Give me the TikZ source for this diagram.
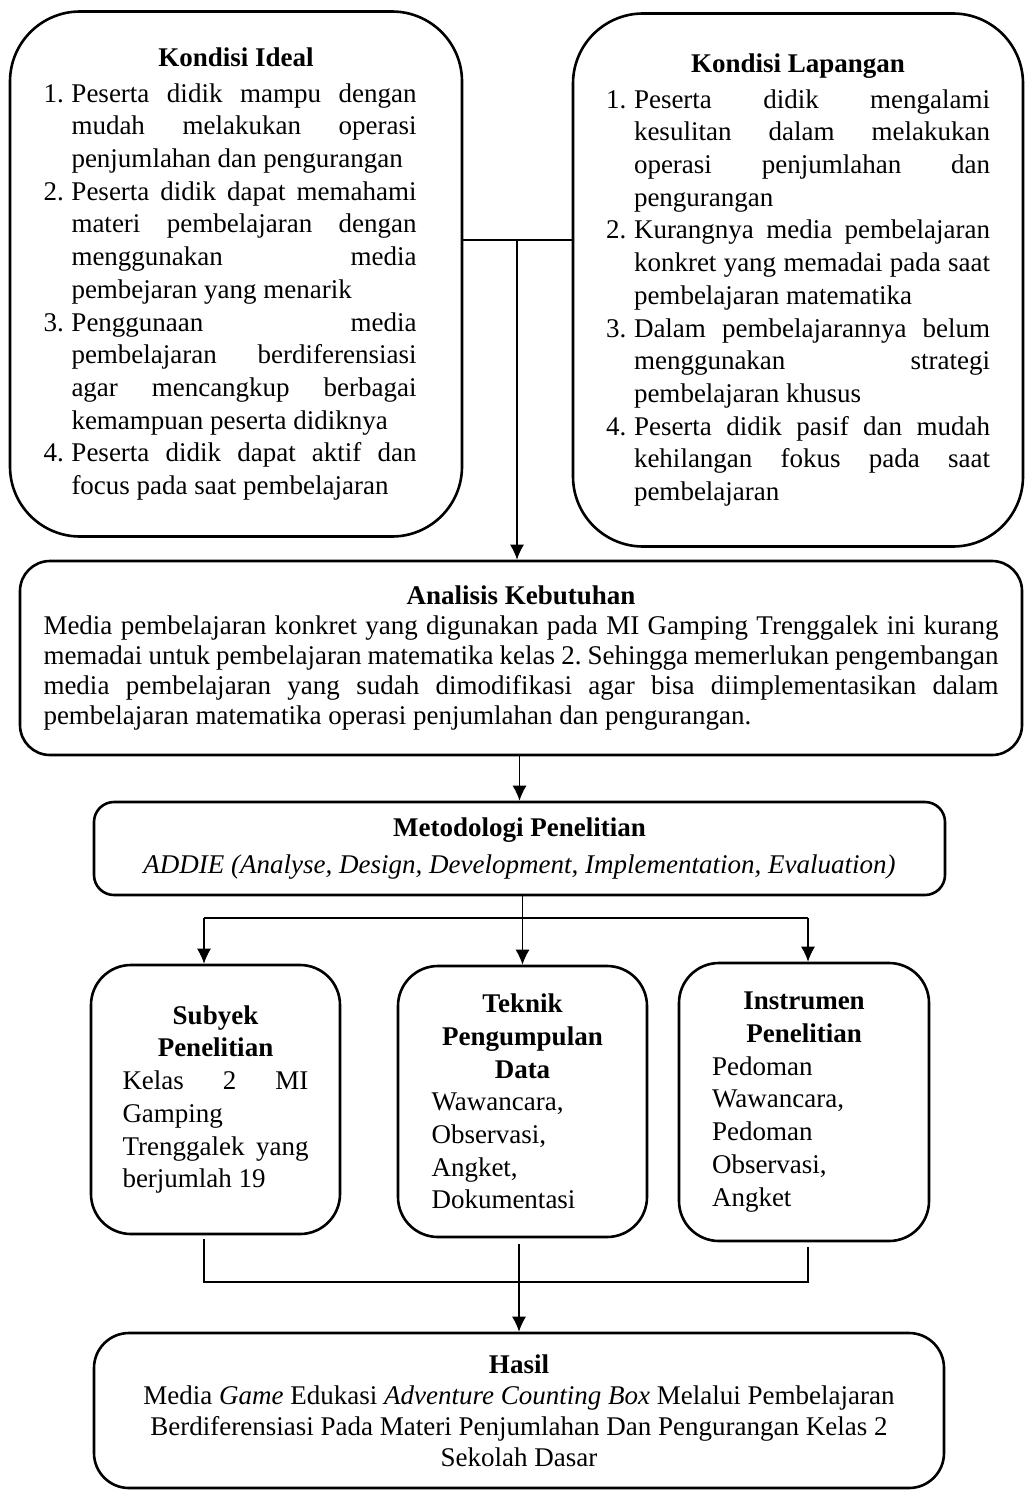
\documentclass[tikz,border=0pt]{standalone}
\usepackage{fontspec}
\setmainfont{Liberation Serif}
\usetikzlibrary{arrows.meta,calc}
\frenchspacing
\tolerance=10000
\hyphenpenalty=10000
\newcommand\kitem[2]{\par\hangindent=28pt\hangafter=1\noindent\makebox[28pt][l]{#1}#2\par}

\begin{document}
\begin{tikzpicture}[x=1pt,y=-1pt,
    panel/.style={draw=black, line width=2.6pt, rounded corners=#1, inner sep=0pt,
                  font=\fontsize{27pt}{32.7pt}\selectfont},
    panel/.default=40pt,
    link/.style={line width=1.3pt},
    >={Latex[length=15pt,width=14pt]}]
    \useasboundingbox (0,0) rectangle (1026,1490);
    % Kondisi Ideal
    \node[panel=70pt, minimum width=452pt, minimum height=525pt,
          text width=385pt, align=justify] (ideal) at (236,274) {\rightskip=12pt
        {\centering\bfseries Kondisi Ideal\par}\vspace{3pt}
        \kitem{1.}{Peserta didik mampu dengan\linebreak mudah melakukan operasi\linebreak penjumlahan dan pengurangan}
        \kitem{2.}{Peserta didik dapat memahami\linebreak materi pembelajaran dengan\linebreak menggunakan media\linebreak pembejaran yang menarik}
        \kitem{3.}{Penggunaan media\linebreak pembelajaran berdiferensiasi\linebreak agar mencangkup berbagai\linebreak kemampuan peserta didiknya}
        \kitem{4.}{Peserta didik dapat aktif dan\linebreak focus pada saat pembelajaran}};
    % Kondisi Lapangan
    \node[panel=70pt, minimum width=450pt, minimum height=533pt,
          text width=384pt, align=justify] (lapangan) at (798,280) {
        {\centering\bfseries Kondisi Lapangan\par}\vspace{3pt}
        \kitem{1.}{Peserta didik mengalami\linebreak kesulitan dalam melakukan\linebreak operasi penjumlahan dan\linebreak pengurangan}
        \kitem{2.}{Kurangnya media pembelajaran\linebreak konkret yang memadai pada saat\linebreak pembelajaran matematika}
        \kitem{3.}{Dalam pembelajarannya belum\linebreak menggunakan strategi\linebreak pembelajaran khusus}
        \kitem{4.}{Peserta didik pasif dan mudah\linebreak kehilangan fokus pada saat\linebreak pembelajaran}};
    % Analisis Kebutuhan
    \node[panel=30pt, minimum width=1002pt, minimum height=194pt,
          text width=955pt, align=justify,
          font=\fontsize{27pt}{30pt}\selectfont] (analisis) at (521,658) {
        {\centering\bfseries Analisis Kebutuhan\par}
        Media pembelajaran konkret yang digunakan pada MI Gamping Trenggalek ini kurang\linebreak
        memadai untuk pembelajaran matematika kelas 2. Sehingga memerlukan pengembangan\linebreak
        media pembelajaran yang sudah dimodifikasi agar bisa diimplementasikan dalam\linebreak
        pembelajaran matematika operasi penjumlahan dan pengurangan.};
    % Metodologi Penelitian
    \node[panel=20pt, minimum width=851pt, minimum height=93pt, align=center,
          font=\fontsize{27pt}{37pt}\selectfont] (metodologi) at (519.5,848.5) {
        \textbf{Metodologi Penelitian}\\
        \textit{ADDIE (Analyse, Design, Development, Implementation, Evaluation)}};
    % Subyek, Teknik, Instrumen
    \node[panel, minimum width=249pt, minimum height=269pt,
          text width=186pt, align=justify] (subyek) at (215.5,1099.5) {
        {\centering\bfseries Subyek\\Penelitian\par}
        Kelas 2 MI\linebreak Gamping\\ Trenggalek yang\linebreak berjumlah 19};
    \node[panel, minimum width=249pt, minimum height=271pt,
          text width=182pt, align=left] (teknik) at (522.5,1101.5) {
        {\centering\bfseries Teknik\\Pengumpulan\\Data\par}
        Wawancara,\\Observasi,\\Angket,\\Dokumentasi};
    \node[panel, minimum width=250pt, minimum height=278pt,
          text width=184pt, align=left] (instrumen) at (804,1102) {
        {\centering\bfseries Instrumen\\Penelitian\par}
        Pedoman\\Wawancara,\\Pedoman\\Observasi,\\Angket};
    % Hasil
    \node[panel=35pt, minimum width=850pt, minimum height=155pt, align=center,
          font=\fontsize{27pt}{31pt}\selectfont] (hasil) at (519,1410.5) {
        \textbf{Hasil}\\
        Media \textit{Game} Edukasi \textit{Adventure Counting Box} Melalui Pembelajaran\\
        Berdiferensiasi Pada Materi Penjumlahan Dan Pengurangan Kelas 2\\
        Sekolah Dasar};
    % links
    \coordinate (split) at (517,240);
    \draw[link] (ideal.east |- split) -- (lapangan.west |- split);
    \draw[link,->] (split) -- (split |- analisis.north);
    \draw[link,->] (metodologi.north |- analisis.south) -- (metodologi.north);
    % fork
    \coordinate (forkl) at (204,918);
    \coordinate (forkr) at (808,918);
    \draw[link] (forkl) -- (forkr);
    \draw[link,->] (forkl) -- (forkl |- subyek.north);
    \draw[link,->] (forkr) -- (forkr |- instrumen.north);
    \draw[link,->] (metodologi.south -| teknik.north) -- (teknik.north);
    % join
    \coordinate (joinl) at (204,1282);
    \coordinate (joinr) at (808,1282);
    \draw[link] ($(joinl |- subyek.south)+(0,4)$) -- (joinl) -- (joinr)
        -- ($(joinr |- instrumen.south)+(0,5)$);
    \draw[link,->] ($(hasil.north |- teknik.south)+(0,6)$) -- (hasil.north);
\end{tikzpicture}
\end{document}
